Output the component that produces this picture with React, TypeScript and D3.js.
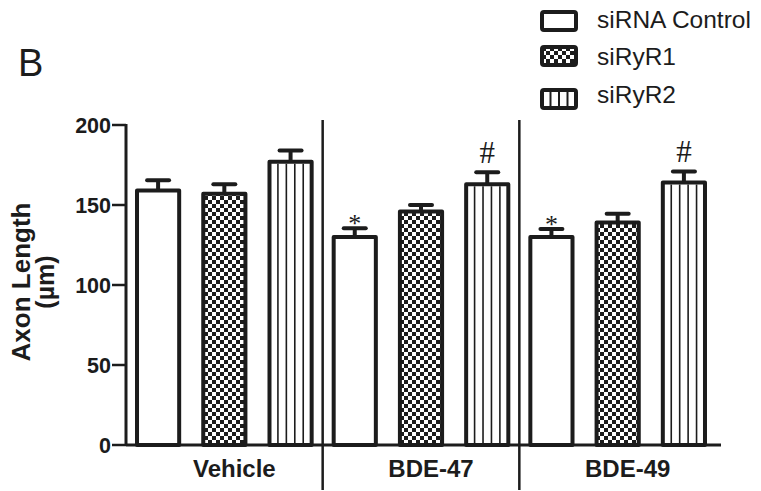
import { useEffect, useRef } from "react";
import * as d3 from "d3";

// data
const groups = ["Vehicle", "BDE-47", "BDE-49"];
const series = ["siRNA Control", "siRyR1", "siRyR2"];
const means = [
  [159, 157, 177],
  [130, 146, 163],
  [130, 139, 164],
];
const sems = [
  [6.5, 6, 7],
  [5.5, 4, 7.5],
  [5, 5.5, 7],
];
const marks = [
  ["", "", ""],
  ["*", "", "#"],
  ["*", "", "#"],
];
const yTicks = [0, 50, 100, 150, 200];

const INK = "#1c1c1c";
const FONT = "'Liberation Sans', Arial, sans-serif";

const App = () => {
  const svgRef = useRef<SVGSVGElement>(null);

  useEffect(() => {
    const svg = d3.select(svgRef.current);
    svg.selectAll("*").remove();

    const width = 761;
    const height = 491;
    const left = 126;
    const top = 125;
    const bottom = 445;

    svg.attr("width", width).attr("height", height);

    // checker pattern for siRyR1
    const defs = svg.append("defs");
    const chk = defs
      .append("pattern")
      .attr("id", "checker")
      .attr("patternUnits", "userSpaceOnUse")
      .attr("width", 8)
      .attr("height", 8);
    chk.append("rect").attr("width", 8).attr("height", 8).attr("fill", "#fff");
    chk.append("rect").attr("width", 4).attr("height", 4).attr("fill", INK);
    chk.append("rect").attr("x", 4).attr("y", 4).attr("width", 4).attr("height", 4).attr("fill", INK);

    const x0 = d3.scaleBand().domain(groups).range([left, 716]);
    const x1 = d3
      .scaleBand()
      .domain(series)
      .range([0, x0.bandwidth()])
      .paddingInner(0.303)
      .paddingOuter(0.136);
    const y = d3.scaleLinear().domain([0, 200]).range([bottom, top]);

    const fillFor = (s: string) => (s === "siRyR1" ? "url(#checker)" : "#fff");

    // panel letter
    svg.append("text")
      .attr("x", 18)
      .attr("y", 76)
      .attr("font-family", FONT)
      .attr("font-size", 38)
      .attr("fill", INK)
      .text("B");

    // group dividers
    groups.slice(1).forEach((g) => {
      svg.append("line")
        .attr("x1", x0(g)!)
        .attr("x2", x0(g)!)
        .attr("y1", 120)
        .attr("y2", 490)
        .attr("stroke", INK)
        .attr("stroke-width", 2.5);
    });

    // bars
    groups.forEach((g, gi) => {
      series.forEach((s, si) => {
        const bx = x0(g)! + x1(s)!;
        const bw = x1.bandwidth();
        const v = means[gi][si];
        const e = sems[gi][si];
        const cx = bx + bw / 2;

        // error bar (upper only)
        svg.append("line")
          .attr("x1", cx).attr("x2", cx)
          .attr("y1", y(v)).attr("y2", y(v + e))
          .attr("stroke", INK).attr("stroke-width", 4);
        svg.append("line")
          .attr("x1", cx - 11).attr("x2", cx + 11)
          .attr("y1", y(v + e)).attr("y2", y(v + e))
          .attr("stroke", INK).attr("stroke-width", 4)
          .attr("stroke-linecap", "round");

        svg.append("rect")
          .attr("x", bx + 2)
          .attr("y", y(v))
          .attr("width", bw - 4)
          .attr("height", y(0) - y(v))
          .attr("fill", fillFor(s))
          .attr("stroke", INK)
          .attr("stroke-width", 4)
          .attr("stroke-linejoin", "round");

        if (s === "siRyR2") {
          const inner = d3.scaleLinear().domain([0, 5]).range([bx + 2, bx + bw - 2]);
          d3.range(1, 5).forEach((k) => {
            svg.append("line")
              .attr("x1", inner(k)).attr("x2", inner(k))
              .attr("y1", y(v) + 2).attr("y2", y(0))
              .attr("stroke", INK).attr("stroke-width", 1.6);
          });
        }

        const m = marks[gi][si];
        if (m === "*") {
          svg.append("text")
            .attr("x", cx)
            .attr("y", y(v + e) + 4)
            .attr("text-anchor", "middle")
            .attr("font-family", "'Liberation Serif', 'Times New Roman', serif")
            .attr("font-size", 26)
            .attr("fill", INK)
            .text("*");
        } else if (m === "#") {
          svg.append("text")
            .attr("x", cx)
            .attr("y", y(v + e) - 9)
            .attr("text-anchor", "middle")
            .attr("font-family", "'Liberation Serif', 'Times New Roman', serif")
            .attr("font-size", 31)
            .attr("fill", INK)
            .text("#");
        }
      });
    });

    // y axis
    svg.append("line")
      .attr("x1", left).attr("x2", left)
      .attr("y1", top - 1).attr("y2", bottom)
      .attr("stroke", INK).attr("stroke-width", 3);
    yTicks.forEach((t) => {
      svg.append("line")
        .attr("x1", left - 14).attr("x2", left)
        .attr("y1", y(t)).attr("y2", y(t))
        .attr("stroke", INK).attr("stroke-width", 2.5);
      svg.append("text")
        .attr("x", left - 15)
        .attr("y", y(t))
        .attr("dy", "0.36em")
        .attr("text-anchor", "end")
        .attr("font-family", FONT)
        .attr("font-weight", "bold")
        .attr("font-size", 21.5)
        .attr("fill", INK)
        .text(t);
    });

    // x baseline
    svg.append("line")
      .attr("x1", left).attr("x2", 721)
      .attr("y1", bottom).attr("y2", bottom)
      .attr("stroke", INK).attr("stroke-width", 3);

    // group labels
    groups.forEach((g) => {
      svg.append("text")
        .attr("x", x0(g)! + x0.bandwidth() / 2 + 10)
        .attr("y", 477)
        .attr("text-anchor", "middle")
        .attr("font-family", FONT)
        .attr("font-weight", "bold")
        .attr("font-size", 24)
        .attr("fill", INK)
        .text(g);
    });

    // axis title
    const title = svg.append("g").attr("transform", "translate(0,282) rotate(-90)");
    title.append("text")
      .attr("x", 0).attr("y", 30)
      .attr("text-anchor", "middle")
      .attr("font-family", FONT)
      .attr("font-weight", "bold")
      .attr("font-size", 26)
      .attr("fill", INK)
      .text("Axon Length");
    title.append("text")
      .attr("x", 0).attr("y", 54)
      .attr("text-anchor", "middle")
      .attr("font-family", FONT)
      .attr("font-weight", "bold")
      .attr("font-size", 25)
      .attr("fill", INK)
      .text("(µm)");

    // legend
    const legendY = [10, 45, 88];
    const textY = [28, 65, 103];
    series.forEach((s, i) => {
      const lg = svg.append("g").attr("transform", `translate(542,${legendY[i] + 2})`);
      lg.append("rect")
        .attr("width", 34).attr("height", 18)
        .attr("rx", 2)
        .attr("fill", fillFor(s))
        .attr("stroke", INK).attr("stroke-width", 4);
      if (s === "siRyR2") {
        [8.5, 17, 25.5].forEach((lx) => {
          lg.append("line")
            .attr("x1", lx).attr("x2", lx)
            .attr("y1", 0).attr("y2", 18)
            .attr("stroke", INK).attr("stroke-width", 2);
        });
      }
      svg.append("text")
        .attr("x", 597)
        .attr("y", textY[i])
        .attr("font-family", FONT)
        .attr("font-size", 24.5)
        .attr("fill", INK)
        .text(s);
    });
  }, []);

  return (
    <svg
      ref={svgRef}
      style={{ position: "absolute", left: 0, top: 0, background: "#fff" }}
    ></svg>
  );
};

export default App;
